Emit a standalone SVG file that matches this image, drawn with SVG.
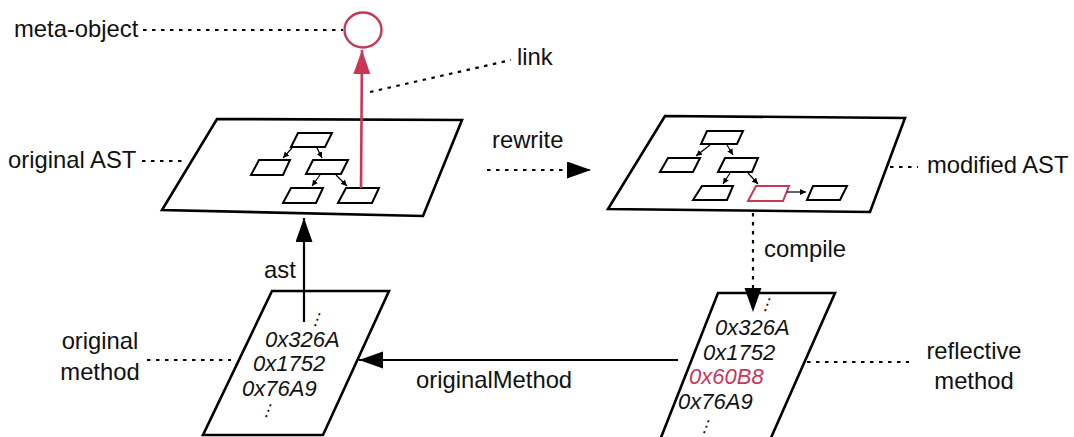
<svg xmlns="http://www.w3.org/2000/svg" width="1074" height="437" viewBox="0 0 1074 437">
<style>
text{font-family:"Liberation Sans",Arial,sans-serif;font-size:23.8px;fill:#111}
.hex{font-style:italic;font-size:22px}
.red{fill:#C93756}
.dots{font-family:"DejaVu Sans",sans-serif;font-size:17px;text-anchor:middle}
.plane{fill:#fff;stroke:#000;stroke-width:2.6;stroke-linejoin:miter}
.n{fill:#fff;stroke:#000;stroke-width:2}
.nr{fill:#fff;stroke:#C93756;stroke-width:2}
.dot{fill:none;stroke:#000;stroke-width:2.2;stroke-dasharray:3.5 5.5}
.conn{fill:none;stroke:#000;stroke-width:2.2}
.small{fill:none;stroke:#000;stroke-width:1.2}
</style>
<defs>
<marker id="big" markerUnits="userSpaceOnUse" markerWidth="26" markerHeight="18" refX="24" refY="8.5" orient="auto"><path d="M0,0 L24,8.5 L0,17 z" fill="#000"/></marker>
<marker id="bigRed" markerUnits="userSpaceOnUse" markerWidth="26" markerHeight="18" refX="24" refY="8.5" orient="auto"><path d="M0,0 L24,8.5 L0,17 z" fill="#C93756"/></marker>
<marker id="sm" markerUnits="userSpaceOnUse" markerWidth="7" markerHeight="6" refX="6" refY="3" orient="auto"><path d="M0,0 L6,3 L0,6 z" fill="#000"/></marker>
</defs>

<g id="meta-object">
<ellipse cx="363" cy="30" rx="18.5" ry="17.5" fill="#fff" stroke="#C93756" stroke-width="2.4"/>
</g>

<g id="original-ast">
<polygon class="plane" points="217,119 462,120 423,216 162,210"/>
<polygon class="n" points="298,133 332,133 325,147 291,147"/>
<polygon class="n" points="259,160 290,160 283,175 251,175"/>
<polygon class="n" points="313,160 348,160 341,174 306,174"/>
<polygon class="n" points="291,188 323,188 316,203 283,203"/>
<polygon class="n" points="346,188 379,188 372,203 338,203"/>
<line class="small" x1="292" y1="148" x2="283" y2="158" marker-end="url(#sm)"/>
<line class="small" x1="317" y1="148" x2="322" y2="158" marker-end="url(#sm)"/>
<line class="small" x1="320" y1="175" x2="312" y2="186" marker-end="url(#sm)"/>
<line class="small" x1="336" y1="175" x2="347" y2="186" marker-end="url(#sm)"/>
</g>

<g id="modified-ast">
<polygon class="plane" points="665,116 905,118 870,212 608,209"/>
<polygon class="n" points="707,131 743,131 737,144 701,144"/>
<polygon class="n" points="668,158 700,158 693,172 660,172"/>
<polygon class="n" points="725,158 758,158 752,172 718,172"/>
<polygon class="n" points="702,186 733,186 727,200 693,200"/>
<polygon class="nr" points="756,186 789,186 783,201 748,201"/>
<polygon class="n" points="813,186 847,186 840,200 807,200"/>
<line class="small" x1="710" y1="145" x2="696" y2="156" marker-end="url(#sm)"/>
<line class="small" x1="727" y1="145" x2="733" y2="155" marker-end="url(#sm)"/>
<line class="small" x1="730" y1="173" x2="723" y2="184" marker-end="url(#sm)"/>
<line class="small" x1="748" y1="173" x2="758" y2="184" marker-end="url(#sm)"/>
<line class="small" x1="787" y1="192" x2="806" y2="192" marker-end="url(#sm)"/>
</g>

<g id="original-method">
<polygon class="plane" points="272,291 389,291 323,435 203,435"/>
<text class="hex"><tspan x="265" y="346.5">0x326A</tspan><tspan x="253" y="371">0x1752</tspan><tspan x="242" y="395.5">0x76A9</tspan></text>
<text class="dots" x="318" y="325" transform="rotate(20 318 318)">⋮</text>
<text class="dots" x="269" y="416" transform="rotate(20 269 409)">⋮</text>
</g>

<g id="reflective-method">
<polygon class="plane" points="718,293 835,293 770,440 660,440"/>
<text class="hex"><tspan x="715" y="334.5">0x326A</tspan><tspan x="703" y="359.5">0x1752</tspan><tspan class="red" x="689" y="384">0x60B8</tspan><tspan x="678" y="408.5">0x76A9</tspan></text>
<text class="dots" x="768" y="310" transform="rotate(20 768 303)">⋮</text>
<text class="dots" x="707" y="432" transform="rotate(20 707 425)">⋮</text>
</g>

<g id="label-meta-object"><text x="14" y="37">meta-object</text></g>
<g id="label-link"><text x="517" y="65">link</text></g>
<g id="label-original-ast"><text x="8" y="168">original AST</text></g>
<g id="label-modified-ast"><text x="927" y="173">modified AST</text></g>
<g id="label-original-method"><text x="100" y="349" text-anchor="middle">original</text><text x="100" y="380" text-anchor="middle">method</text></g>
<g id="label-reflective-method"><text x="974" y="359" text-anchor="middle">reflective</text><text x="974" y="389" text-anchor="middle">method</text></g>

<g id="connectors">
<line class="dot" x1="143" y1="30" x2="343" y2="30"/>
<line class="dot" x1="370" y1="92" x2="511" y2="60"/>
<line class="dot" x1="142" y1="161" x2="186" y2="161"/>
<line class="dot" x1="890" y1="167" x2="918" y2="167"/>
<line class="dot" x1="147" y1="360" x2="231" y2="360"/>
<line class="dot" x1="807" y1="362" x2="909" y2="362"/>
<line x1="361" y1="188" x2="362" y2="50" stroke="#C93756" stroke-width="2.6" marker-end="url(#bigRed)"/>
<line class="dot" x1="487" y1="170" x2="591" y2="170" marker-end="url(#big)"/>
<text x="492" y="148">rewrite</text>
<line class="dot" x1="753" y1="213" x2="753" y2="312" marker-end="url(#big)"/>
<text x="764" y="257">compile</text>
<line class="conn" x1="304" y1="322" x2="304" y2="218" marker-end="url(#big)"/>
<text x="264" y="278">ast</text>
<line class="conn" x1="678" y1="360" x2="359" y2="360" marker-end="url(#big)"/>
<text x="416" y="388">originalMethod</text>
</g>
</svg>
